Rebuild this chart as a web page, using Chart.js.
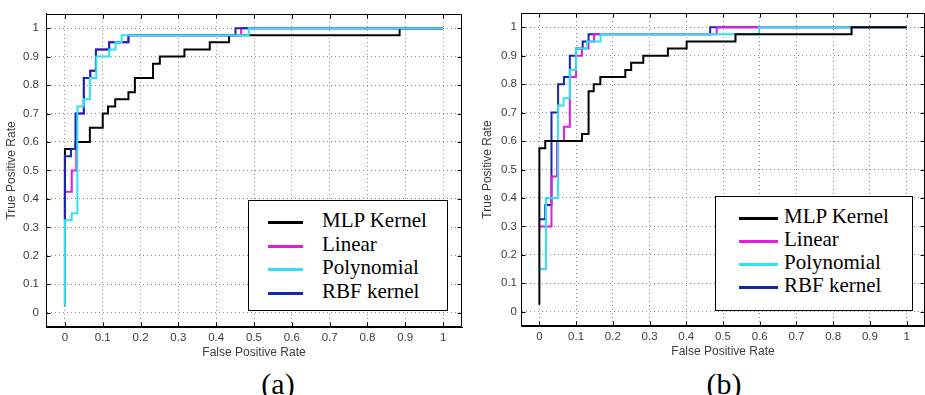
<!DOCTYPE html>
<html>
<head>
<meta charset="utf-8">
<script src="https://cdn.jsdelivr.net/npm/chart.js@4/dist/chart.umd.min.js"></script>
<style>
  html, body { margin: 0; padding: 0; background: #fff; overflow: hidden; }
  #wrap { position: relative; width: 925px; height: 395px; background: #fff; }
  .panel { position: absolute; top: 0; height: 365px; }
  .legend { position: absolute; border: 1.5px solid #000; background: #fff; box-sizing: border-box; }
  .row { position: absolute; left: 0; height: 24px; font: 21px "Liberation Serif", "Times New Roman", serif; color: #000; }
  .row i { position: absolute; height: 3px; }
  .row span { position: absolute; top: -2px; white-space: nowrap; line-height: 24px; }
  .cap { position: absolute; top: 367px; width: 60px; text-align: center; line-height: 1;
         font: 30px "Liberation Serif", "Times New Roman", serif; color: #000; }
</style>
</head>
<body>
<div id="wrap">
  <div class="panel" style="left:0;width:470px"><canvas id="rocA"></canvas></div>
  <div class="panel" style="left:476px;width:449px"><canvas id="rocB"></canvas></div>
  <div class="legend" id="legA" style="left:248px;top:200px;width:200px;height:111px"></div>
  <div class="legend" id="legB" style="left:715px;top:196px;width:198px;height:115px"></div>
  <div class="cap" style="left:248px">(a)</div>
  <div class="cap" style="left:694px">(b)</div>
</div>
<script>
// axis ticks
const X_TICKS = [0, 0.1, 0.2, 0.3, 0.4, 0.5, 0.6, 0.7, 0.8, 0.9, 1];
const X_TICK_LABELS = ['0', '0.1', '0.2', '0.3', '0.4', '0.5', '0.6', '0.7', '0.8', '0.9', '1'];
const Y_TICKS = [0, 0.1, 0.2, 0.3, 0.4, 0.5, 0.6, 0.7, 0.8, 0.9, 1];
const Y_TICK_LABELS = ['0', '0.1', '0.2', '0.3', '0.4', '0.5', '0.6', '0.7', '0.8', '0.9', '1'];

const SERIES = ['MLP Kernel', 'Linear', 'Polynomial', 'RBF kernel'];
const COLORS = ['#000000', '#e21ae2', '#2fe2f2', '#1426b4'];

// (a) ROC corners: FPR where the curve steps up, TPR it steps up to
const A_MLP_FPR = [0, 0, 0.028, 0.066, 0.100, 0.114, 0.133, 0.168, 0.185, 0.233, 0.251, 0.316, 0.383, 0.434, 0.885, 1];
const A_MLP_TPR = [0.025, 0.575, 0.6, 0.65, 0.7, 0.725, 0.75, 0.775, 0.825, 0.875, 0.9, 0.925, 0.95, 0.975, 1, 1];
const A_LIN_FPR = [0, 0, 0.018, 0.030, 0.050, 0.067, 0.082, 0.117, 0.168, 0.466, 1];
const A_LIN_TPR = [0.325, 0.425, 0.5, 0.7, 0.825, 0.85, 0.925, 0.95, 0.975, 1, 1];
const A_POLY_FPR = [0, 0, 0.018, 0.033, 0.050, 0.066, 0.083, 0.117, 0.134, 0.150, 0.486, 1];
const A_POLY_TPR = [0.025, 0.325, 0.35, 0.725, 0.75, 0.825, 0.9, 0.925, 0.95, 0.975, 1, 1];
const A_RBF_FPR = [0, 0, 0.016, 0.028, 0.050, 0.067, 0.082, 0.117, 0.168, 0.451, 1];
const A_RBF_TPR = [0.325, 0.55, 0.575, 0.7, 0.825, 0.85, 0.925, 0.95, 0.975, 1, 1];

// (b)
const B_MLP_FPR = [0, 0, 0.016, 0.116, 0.134, 0.148, 0.166, 0.234, 0.250, 0.283, 0.350, 0.401, 0.534, 0.850, 1];
const B_MLP_TPR = [0.025, 0.575, 0.6, 0.625, 0.775, 0.8, 0.825, 0.85, 0.875, 0.9, 0.925, 0.95, 0.975, 1, 1];
const B_LIN_FPR = [0, 0.033, 0.048, 0.067, 0.083, 0.100, 0.116, 0.134, 0.149, 0.483, 1];
const B_LIN_TPR = [0.3, 0.475, 0.6, 0.65, 0.825, 0.9, 0.925, 0.95, 0.975, 1, 1];
const B_POLY_FPR = [0, 0.018, 0.051, 0.066, 0.083, 0.100, 0.130, 0.167, 0.598, 1];
const B_POLY_TPR = [0.15, 0.4, 0.725, 0.75, 0.85, 0.925, 0.95, 0.975, 1, 1];
const B_RBF_FPR = [0, 0.016, 0.033, 0.051, 0.067, 0.083, 0.100, 0.118, 0.134, 0.465, 1];
const B_RBF_TPR = [0.325, 0.375, 0.7, 0.8, 0.825, 0.9, 0.925, 0.95, 0.975, 1, 1];

function pts(fpr, tpr) {
  return fpr.map((x, i) => ({ x: x, y: tpr[i] }));
}

// Matlab style box with inward tick marks
const frame = {
  id: 'frame',
  afterDraw(chart) {
    const { ctx, chartArea: a, scales: { x, y } } = chart;
    const L = Math.round(a.left) + 0.5, R = Math.round(a.right) - 0.5;
    const T = Math.round(a.top) + 0.5, B = Math.round(a.bottom) - 0.5;
    ctx.save();
    ctx.strokeStyle = '#000';
    ctx.lineWidth = 1;
    ctx.beginPath();
    ctx.rect(L, T, R - L, B - T);
    X_TICKS.forEach(v => {
      const px = Math.round(x.getPixelForValue(v)) + 0.5;
      ctx.moveTo(px, B); ctx.lineTo(px, B - 4);
      ctx.moveTo(px, T); ctx.lineTo(px, T + 4);
    });
    Y_TICKS.forEach(v => {
      const py = Math.round(y.getPixelForValue(v)) + 0.5;
      ctx.moveTo(L, py); ctx.lineTo(L + 4, py);
      ctx.moveTo(R, py); ctx.lineTo(R - 4, py);
    });
    ctx.stroke();
    ctx.restore();
  }
};

function makeRoc(id, sets, order, pad, yWidth, yTickPad) {
  const tickFont = { family: '"Liberation Sans", Arial, sans-serif', size: 11.5 };
  const titleFont = { family: '"Liberation Sans", Arial, sans-serif', size: 12 };
  return new Chart(document.getElementById(id), {
    type: 'line',
    data: {
      datasets: sets.map((s, i) => ({
        label: SERIES[i],
        data: pts(s[0], s[1]),
        borderColor: COLORS[i],
        borderWidth: 2,
        stepped: 'before',
        pointRadius: 0,
        fill: false,
        order: order[i]
      }))
    },
    options: {
      responsive: true,
      maintainAspectRatio: false,
      animation: false,
      layout: { padding: pad },
      plugins: { legend: { display: false }, tooltip: { enabled: false } },
      scales: {
        x: {
          type: 'linear', min: -0.05, max: 1.05,
          afterBuildTicks: s => { s.ticks = X_TICKS.map(v => ({ value: v })); },
          afterFit: s => { s.height = 35; },
          ticks: { callback: (v, i) => X_TICK_LABELS[i], color: '#3c3c3c', font: tickFont, padding: 4, autoSkip: false, maxRotation: 0 },
          grid: { color: '#8a8a8a', lineWidth: 1, drawTicks: false },
          border: { display: true, color: '#000', width: 1, dash: [1, 3] },
          title: { display: true, text: 'False Positive Rate', color: '#3c3c3c', font: titleFont, padding: { top: 0, bottom: 2 } }
        },
        y: {
          type: 'linear', min: -0.05, max: 1.05,
          afterBuildTicks: s => { s.ticks = Y_TICKS.map(v => ({ value: v })); },
          afterFit: s => { s.width = yWidth; },
          ticks: { callback: (v, i) => Y_TICK_LABELS[i], color: '#3c3c3c', font: tickFont, padding: yTickPad, autoSkip: false },
          grid: { color: '#8a8a8a', lineWidth: 1, drawTicks: false },
          border: { display: true, color: '#000', width: 1, dash: [1, 3] },
          title: { display: true, text: 'True Positive Rate', color: '#3c3c3c', font: titleFont, padding: { top: 4, bottom: 4 } }
        }
      }
    },
    plugins: [frame]
  });
}

makeRoc('rocA',
  [[A_MLP_FPR, A_MLP_TPR], [A_LIN_FPR, A_LIN_TPR], [A_POLY_FPR, A_POLY_TPR], [A_RBF_FPR, A_RBF_TPR]],
  [3, 2, 0, 1], { left: 0, top: 9, right: 8, bottom: 3 }, 46, 7);
makeRoc('rocB',
  [[B_MLP_FPR, B_MLP_TPR], [B_LIN_FPR, B_LIN_TPR], [B_POLY_FPR, B_POLY_TPR], [B_RBF_FPR, B_RBF_TPR]],
  [0, 2, 1, 3], { left: 0, top: 13, right: 0, bottom: 4 }, 45, 4);

// legends inside the axes
function buildLegend(id, rowTop, rowGap, lineLeft, lineWidth, textLeft) {
  const box = document.getElementById(id);
  SERIES.forEach((name, i) => {
    const row = document.createElement('div');
    row.className = 'row';
    row.style.top = (rowTop + i * rowGap - 12) + 'px';
    row.style.width = '100%';
    const line = document.createElement('i');
    line.style.left = lineLeft + 'px';
    line.style.width = lineWidth + 'px';
    line.style.top = '11px';
    line.style.background = COLORS[i];
    const txt = document.createElement('span');
    txt.style.left = textLeft + 'px';
    txt.textContent = name;
    row.appendChild(line);
    row.appendChild(txt);
    box.appendChild(row);
  });
}
buildLegend('legA', 21, 23.7, 19, 35, 73);
buildLegend('legB', 21, 23, 23, 39, 68);
</script>
</body>
</html>
